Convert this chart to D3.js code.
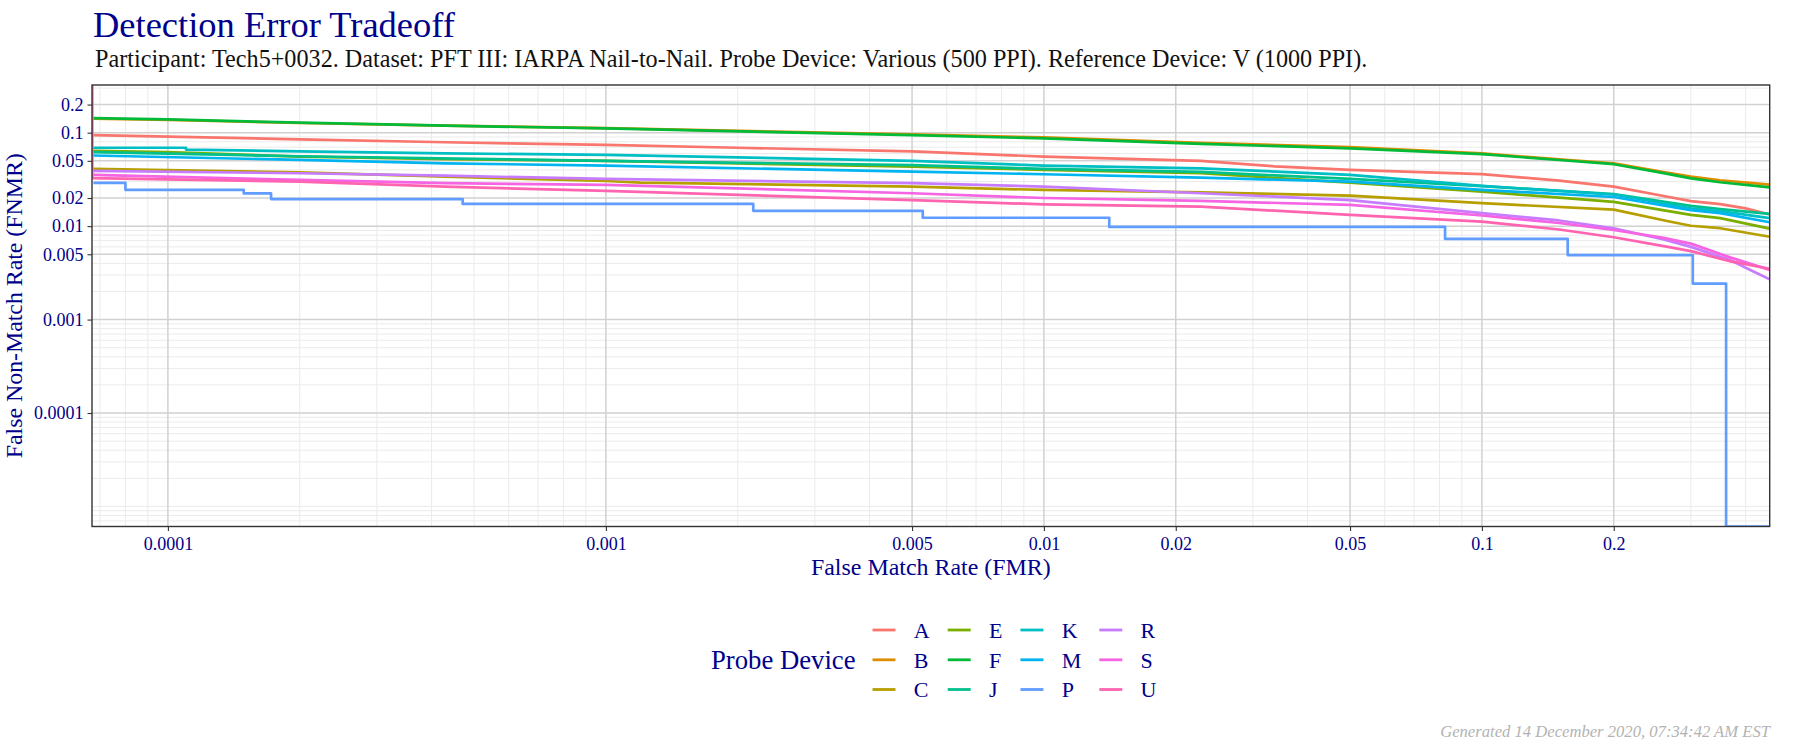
<!DOCTYPE html>
<html><head><meta charset="utf-8">
<script src="https://cdn.jsdelivr.net/npm/d3@7"></script>
<style>body{margin:0;background:#fff;} svg{display:block;}</style>
</head><body>
<svg id="chart" width="1800" height="750"></svg>
<script>
// ---------------- data ----------------
const deviceNames  = ["A","B","C","E","F","J","K","M","P","R","S","U"];
const deviceColors = ["#F8766D","#DE8C00","#B79F00","#7CAE00","#00BA38","#00C08B","#00BFC4","#00B4F0","#619CFF","#C77CFF","#F564E3","#FF64B0"];
const xTickValues = [0.0001,0.001,0.005,0.01,0.02,0.05,0.1,0.2];
const xTickLabels = ["0.0001","0.001","0.005","0.01","0.02","0.05","0.1","0.2"];
const yTickValues = [0.2,0.1,0.05,0.02,0.01,0.005,0.001,0.0001];
const yTickLabels = ["0.2","0.1","0.05","0.02","0.01","0.005","0.001","0.0001"];
const fmrDomain  = [6.71e-5, 0.454];
const fnmrDomain = [6.1e-6, 0.324];

// [FMR, FNMR]
const seriesA = [[6.76e-5,0.094],[1e-4,0.091],[2e-4,0.085],[4.3e-4,0.079],[1e-3,0.074],[2e-3,0.069],[5e-3,0.063],[0.01,0.0555],[0.0228,0.050],[0.0336,0.0437],[0.05,0.040],[0.1,0.036],[0.15,0.0307],[0.2,0.0265],[0.26,0.021],[0.3,0.0185],[0.35,0.0172],[0.4,0.0155],[0.454,0.0133]];
const seriesB = [[6.76e-5,0.141],[1e-4,0.137],[2e-4,0.127],[4.3e-4,0.119],[1e-3,0.112],[5e-3,0.096],[0.01,0.089],[0.0228,0.078],[0.05,0.070],[0.1,0.060],[0.15,0.052],[0.2,0.047],[0.26,0.038],[0.3,0.034],[0.35,0.031],[0.454,0.0278]];
const seriesC = [[6.76e-5,0.041],[2e-4,0.0377],[4.3e-4,0.0338],[1e-3,0.0304],[1.2e-3,0.0292],[5e-3,0.0265],[0.01,0.0244],[0.0228,0.023],[0.05,0.0212],[0.1,0.0176],[0.2,0.015],[0.268,0.0112],[0.3,0.0101],[0.35,0.0095],[0.454,0.0077]];
const seriesE = [[6.76e-5,0.064],[1e-4,0.062],[2e-4,0.0554],[4.3e-4,0.052],[1e-3,0.050],[5e-3,0.0433],[0.01,0.040],[0.0228,0.0368],[0.05,0.0292],[0.1,0.0234],[0.2,0.0182],[0.3,0.0132],[0.35,0.0122],[0.454,0.0094]];
const seriesF = [[6.76e-5,0.143],[1e-4,0.139],[2e-4,0.128],[4.3e-4,0.119],[1e-3,0.111],[5e-3,0.094],[0.01,0.087],[0.0228,0.076],[0.05,0.068],[0.1,0.059],[0.15,0.051],[0.2,0.046],[0.26,0.037],[0.3,0.0325],[0.35,0.0295],[0.454,0.026]];
const seriesJ = [[6.76e-5,0.062],[2e-4,0.056],[1e-3,0.050],[5e-3,0.045],[0.01,0.041],[0.0228,0.038],[0.05,0.032],[0.1,0.0268],[0.2,0.022],[0.3,0.0165],[0.35,0.0152],[0.454,0.0135]];
const seriesK = [[6.76e-5,0.069],[1.1e-4,0.069],[1.1e-4,0.066],[2e-4,0.063],[4.3e-4,0.060],[1e-3,0.058],[5e-3,0.050],[0.01,0.0444],[0.0228,0.0416],[0.05,0.0353],[0.1,0.027],[0.2,0.0218],[0.3,0.0155],[0.35,0.0145],[0.454,0.0122]];
const seriesM = [[6.76e-5,0.057],[2e-4,0.0511],[4.3e-4,0.047],[1e-3,0.0444],[5e-3,0.0383],[0.01,0.0359],[0.0228,0.033],[0.05,0.030],[0.1,0.0244],[0.2,0.0205],[0.3,0.0148],[0.35,0.0138],[0.454,0.011]];
const seriesP = [[6.76e-5,0.029],[8.0e-5,0.0244],[1.49e-4,0.0224],[1.72e-4,0.0195],[4.71e-4,0.0173],[2.17e-3,0.0146],[5.29e-3,0.0123],[0.0141,0.0098],[0.0824,0.0073],[0.157,0.0049],[0.303,0.00243],[0.361,0],[0.454,0]];
const seriesR = [[6.76e-5,0.039],[2e-4,0.0368],[4.3e-4,0.0347],[1e-3,0.032],[5e-3,0.0288],[0.01,0.0265],[0.0228,0.0225],[0.05,0.019],[0.1,0.0138],[0.15,0.0115],[0.2,0.0095],[0.26,0.0072],[0.3,0.006],[0.37,0.0043],[0.41,0.0034],[0.454,0.0027]];
const seriesS = [[6.76e-5,0.0354],[2e-4,0.0312],[4.3e-4,0.0288],[1e-3,0.0276],[5e-3,0.0225],[0.01,0.020],[0.0228,0.0186],[0.05,0.0169],[0.1,0.013],[0.15,0.0108],[0.2,0.0091],[0.26,0.0075],[0.3,0.0065],[0.37,0.0046],[0.454,0.0034]];
const seriesU = [[6.72e-5,1],[6.72e-5,0.0327],[2e-4,0.0299],[4.3e-4,0.0265],[1e-3,0.0238],[5e-3,0.019],[0.01,0.0171],[0.0228,0.0162],[0.05,0.0132],[0.1,0.0112],[0.15,0.0092],[0.2,0.0076],[0.26,0.0061],[0.3,0.0054],[0.37,0.0042],[0.454,0.0035]];
const stepSeries = ["P"];

const titleText = "Detection Error Tradeoff";
const subtitleText = "Participant: Tech5+0032. Dataset: PFT III: IARPA Nail-to-Nail. Probe Device: Various (500 PPI). Reference Device: V (1000 PPI).";
const xTitle = "False Match Rate (FMR)";
const yTitle = "False Non-Match Rate (FNMR)";
const legendTitle = "Probe Device";
const footerText = "Generated 14 December 2020, 07:34:42 AM EST";

// ---------------- drawing ----------------
const seriesList = [seriesA,seriesB,seriesC,seriesE,seriesF,seriesJ,seriesK,seriesM,seriesP,seriesR,seriesS,seriesU];
const FONT = "'Liberation Serif', 'Times New Roman', serif";
const BLUE = "#00008B";
const svg = d3.select("#chart");
const P = {left: 92, right: 1769.7, top: 85, bottom: 526.5};

const x = d3.scaleLog().domain(fmrDomain).range([P.left, P.right]);
const y = d3.scaleLog().domain(fnmrDomain).range([P.bottom, P.top]);

function fitWidth(sel, target) {
  const w = sel.node().getComputedTextLength();
  const fs = parseFloat(sel.attr("font-size"));
  sel.attr("font-size", fs * target / w);
}
function minorValues(domain, majors) {
  const out = [];
  for (let e = -7; e <= 0; e++) for (let k = 1; k <= 9; k++) {
    const v = +(k * Math.pow(10, e)).toPrecision(6);
    if (v >= domain[0] && v <= domain[1] && !majors.some(m => Math.abs(m - v) / v < 1e-6)) out.push(v);
  }
  return out;
}

svg.append("rect").attr("width",1800).attr("height",750).attr("fill","#fff");

const grid = svg.append("g");
grid.selectAll("line.xmin").data(minorValues(fmrDomain, xTickValues)).join("line")
  .attr("x1", d => x(d)).attr("x2", d => x(d)).attr("y1", P.top).attr("y2", P.bottom)
  .attr("stroke", "#ebebeb").attr("stroke-width", 1);
grid.selectAll("line.ymin").data(minorValues(fnmrDomain, yTickValues)).join("line")
  .attr("y1", d => y(d)).attr("y2", d => y(d)).attr("x1", P.left).attr("x2", P.right)
  .attr("stroke", "#ebebeb").attr("stroke-width", 1);
grid.selectAll("line.xmaj").data(xTickValues).join("line")
  .attr("x1", d => x(d)).attr("x2", d => x(d)).attr("y1", P.top).attr("y2", P.bottom)
  .attr("stroke", "#d1d1d1").attr("stroke-width", 1.5);
grid.selectAll("line.ymaj").data(yTickValues).join("line")
  .attr("y1", d => y(d)).attr("y2", d => y(d)).attr("x1", P.left).attr("x2", P.right)
  .attr("stroke", "#d1d1d1").attr("stroke-width", 1.5);

svg.append("clipPath").attr("id","panel").append("rect")
  .attr("x", P.left).attr("y", P.top).attr("width", P.right - P.left).attr("height", P.bottom - P.top);

const yVal = d => d[1] > 0 ? y(Math.min(d[1], fnmrDomain[1] * 4)) : y.range()[0];
const lines = svg.append("g").attr("clip-path","url(#panel)");
seriesList.forEach((s, i) => {
  const gen = d3.line().x(d => x(d[0])).y(yVal)
    .curve(stepSeries.includes(deviceNames[i]) ? d3.curveStepAfter : d3.curveLinear);
  lines.append("path").datum(s).attr("d", gen)
    .attr("fill","none").attr("stroke", deviceColors[i]).attr("stroke-width", 2.7)
    .attr("stroke-linejoin","round");
});

svg.append("rect").attr("x", P.left).attr("y", P.top)
  .attr("width", P.right - P.left).attr("height", P.bottom - P.top)
  .attr("fill","none").attr("stroke","#333").attr("stroke-width",1.4);

// axes
const xAxis = d3.axisBottom(x).tickValues(xTickValues).tickFormat((d,i) => xTickLabels[i]).tickSize(4.5).tickPadding(6);
const yAxis = d3.axisLeft(y).tickValues(yTickValues).tickFormat((d,i) => yTickLabels[i]).tickSize(4.5).tickPadding(4);
const gx = svg.append("g").attr("transform", `translate(0,${P.bottom})`).call(xAxis);
const gy = svg.append("g").attr("transform", `translate(${P.left},0)`).call(yAxis);
[gx, gy].forEach(g => {
  g.select(".domain").remove();
  g.selectAll(".tick line").attr("stroke","#333").attr("stroke-width",1.1);
  g.selectAll(".tick text").attr("fill", BLUE).attr("font-family", FONT).attr("font-size", 18);
});
gx.selectAll(".tick text").attr("dy", "0.71em");

// titles
const t = svg.append("text").attr("x", 93).attr("y", 37).attr("fill", BLUE)
  .attr("font-family", FONT).attr("font-size", 36).text(titleText);
fitWidth(t, 362);
const st = svg.append("text").attr("x", 95).attr("y", 67).attr("fill", "#111")
  .attr("font-family", FONT).attr("font-size", 22).text(subtitleText);
fitWidth(st, 1273);
const xt = svg.append("text").attr("x", (P.left + P.right) / 2).attr("y", 575).attr("text-anchor","middle")
  .attr("fill", BLUE).attr("font-family", FONT).attr("font-size", 22).text(xTitle);
fitWidth(xt, 240);
const yt = svg.append("text").attr("transform", `translate(22,${(P.top + P.bottom) / 2}) rotate(-90)`)
  .attr("text-anchor","middle").attr("fill", BLUE).attr("font-family", FONT).attr("font-size", 22).text(yTitle);
fitWidth(yt, 305);

// legend
const leg = svg.append("g");
const rowY = [630, 659.8, 689.5];
const lt = leg.append("text").attr("x", 711).attr("y", rowY[1]).attr("dy","0.35em")
  .attr("fill", BLUE).attr("font-family", FONT).attr("font-size", 26).text(legendTitle);
fitWidth(lt, 144.6);
let colX = 872.5;
for (let c = 0; c < 4; c++) {
  let maxW = 0;
  for (let r = 0; r < 3; r++) {
    const i = c * 3 + r;
    leg.append("line").attr("x1", colX).attr("x2", colX + 23).attr("y1", rowY[r]).attr("y2", rowY[r])
      .attr("stroke", deviceColors[i]).attr("stroke-width", 2.8);
    const tx = leg.append("text").attr("x", colX + 41.3).attr("y", rowY[r]).attr("dy","0.35em")
      .attr("fill", BLUE).attr("font-family", FONT).attr("font-size", 22).text(deviceNames[i]);
    maxW = Math.max(maxW, tx.node().getComputedTextLength());
  }
  colX = colX + 41.3 + maxW + 18;
}

// footer
const ft = svg.append("text").attr("x", 1770).attr("y", 737).attr("text-anchor","end")
  .attr("fill", "#b3b3b3").attr("font-style","italic").attr("font-family", FONT).attr("font-size", 16).text(footerText);
fitWidth(ft, 330);
</script>
</body></html>
